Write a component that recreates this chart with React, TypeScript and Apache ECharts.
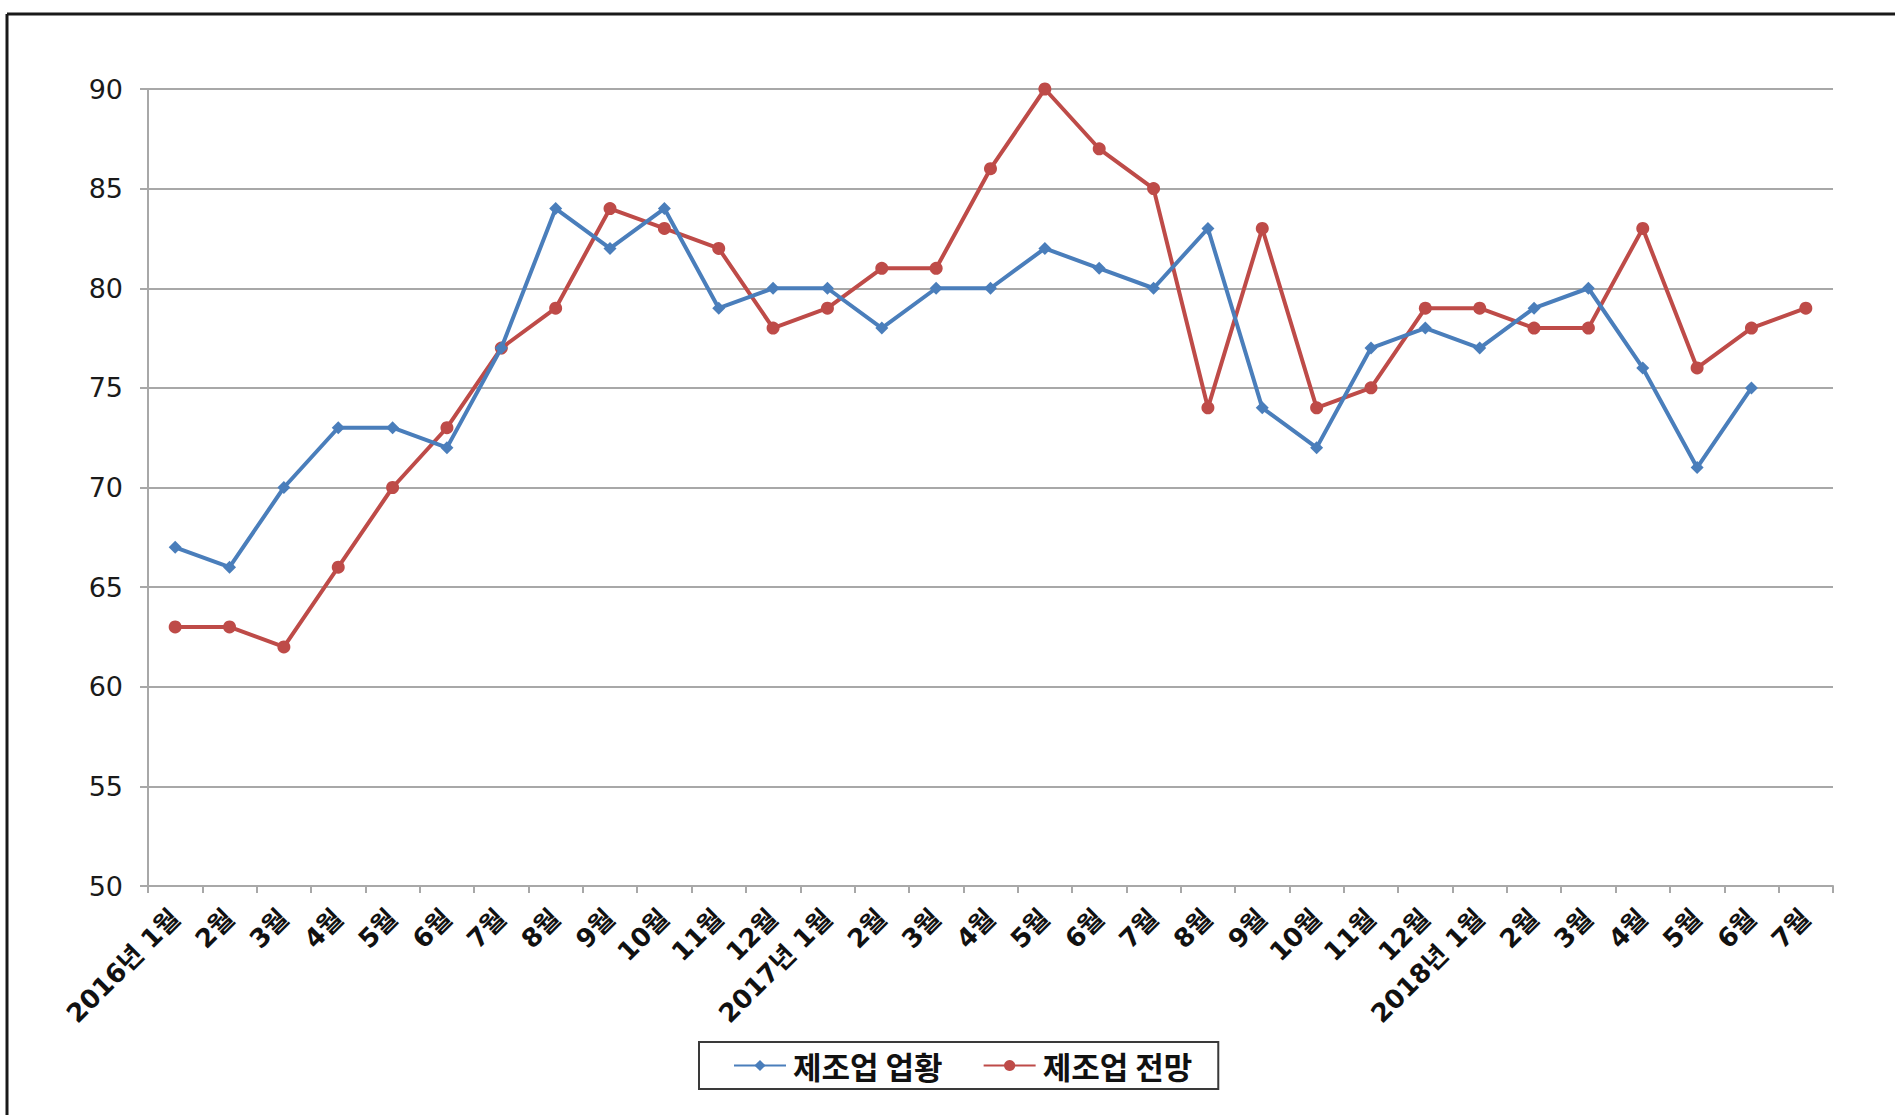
import React, { useEffect, useRef } from "react";
import * as echarts from "echarts";

const categories = [
  "2016년 1월", "2월", "3월", "4월", "5월", "6월", "7월", "8월", "9월", "10월", "11월", "12월",
  "2017년 1월", "2월", "3월", "4월", "5월", "6월", "7월", "8월", "9월", "10월", "11월", "12월",
  "2018년 1월", "2월", "3월", "4월", "5월", "6월", "7월",
];

const seriesNames = ["제조업 업황", "제조업 전망"];

const businessCondition = [
  67, 66, 70, 73, 73, 72, 77, 84, 82, 84, 79, 80,
  80, 78, 80, 80, 82, 81, 80, 83, 74, 72, 77, 78,
  77, 79, 80, 76, 71, 75, null,
];

const businessOutlook = [
  63, 63, 62, 66, 70, 73, 77, 79, 84, 83, 82, 78,
  79, 81, 81, 86, 90, 87, 85, 74, 83, 74, 75, 79,
  79, 78, 78, 83, 76, 78, 79,
];

const yMin = 50;
const yMax = 90;
const yInterval = 5;

const BLUE = "#4a7ebb";
const RED = "#be4b48";
const GRID = "#a8a8a8";

export default function App() {
  const ref = useRef<HTMLDivElement>(null);

  useEffect(() => {
    if (!ref.current) return;
    const chart = echarts.init(ref.current, null, { renderer: "svg" });
    chart.setOption({
      animation: false,
      backgroundColor: "#ffffff",
      grid: { left: 148, right: 62, top: 89, bottom: 229, containLabel: false },
      graphic: [
        {
          type: "line",
          shape: { x1: 7, y1: 14, x2: 1895, y2: 14 },
          style: { stroke: "#1a1a1a", lineWidth: 3 },
        },
        {
          type: "line",
          shape: { x1: 7, y1: 14, x2: 7, y2: 1115 },
          style: { stroke: "#1a1a1a", lineWidth: 3 },
        },
      ],
      legend: {
        data: seriesNames,
        left: 699,
        top: 1042,
        orient: "horizontal",
        padding: [8, 26, 8, 34],
        itemGap: 40,
        itemWidth: 52,
        itemHeight: 14,
        borderColor: "#3a3a3a",
        borderWidth: 2,
        backgroundColor: "#ffffff",
        textStyle: {
          fontFamily: "'Noto Sans CJK KR', sans-serif",
          fontWeight: "bold",
          fontSize: 31,
          color: "#111",
          padding: [0, 0, 0, 2],
        },
      },
      xAxis: {
        type: "category",
        data: categories,
        boundaryGap: true,
        axisLine: { show: true, lineStyle: { color: GRID, width: 2 } },
        axisTick: { show: true, length: 7, lineStyle: { color: GRID, width: 2 } },
        axisLabel: {
          interval: 0,
          rotate: 45,
          margin: 28,
          fontFamily: "'DejaVu Sans', 'Noto Sans CJK KR', sans-serif",
          fontWeight: "bold",
          fontSize: 26,
          color: "#111",
        },
        splitLine: { show: false },
      },
      yAxis: {
        type: "value",
        min: yMin,
        max: yMax,
        interval: yInterval,
        axisLine: { show: true, lineStyle: { color: GRID, width: 2 } },
        axisTick: { show: true, length: 8, lineStyle: { color: GRID, width: 2 } },
        axisLabel: {
          margin: 25,
          fontFamily: "'DejaVu Sans', sans-serif",
          fontSize: 27,
          color: "#1a1a1a",
        },
        splitLine: { show: true, lineStyle: { color: GRID, width: 2 } },
      },
      series: [
        {
          name: seriesNames[0],
          type: "line",
          data: businessCondition,
          connectNulls: false,
          symbol: "diamond",
          symbolSize: 13,
          showAllSymbol: true,
          lineStyle: { color: BLUE, width: 4 },
          itemStyle: { color: BLUE },
          z: 3,
        },
        {
          name: seriesNames[1],
          type: "line",
          data: businessOutlook,
          symbol: "circle",
          symbolSize: 13,
          showAllSymbol: true,
          lineStyle: { color: RED, width: 4 },
          itemStyle: { color: RED },
          z: 2,
        },
      ],
    });
    return () => chart.dispose();
  }, []);

  return (
    <div
      ref={ref}
      style={{ position: "absolute", left: 0, top: 0, width: 1895, height: 1115, background: "#fff" }}
    />
  );
}
